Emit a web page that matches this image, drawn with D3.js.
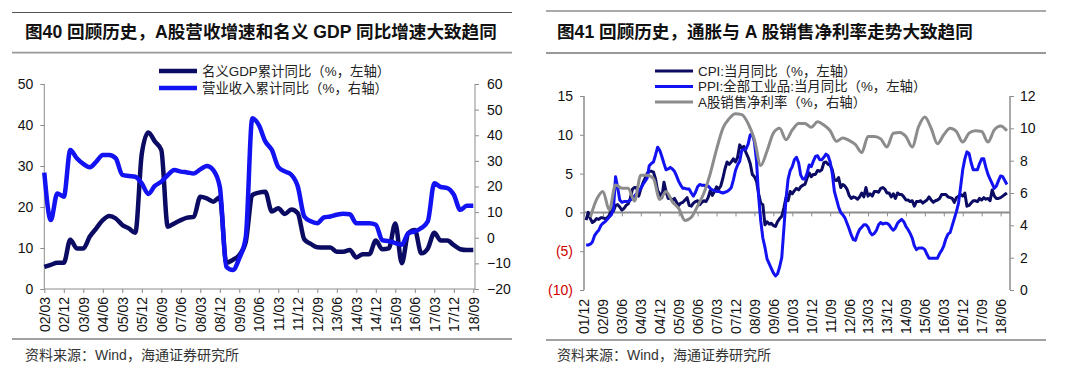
<!DOCTYPE html>
<meta charset="utf-8">
<style>
body { margin: 0; background: #fff; }
svg { display: block; background: #fff; }
text { font-family: "Liberation Sans", Arial, "Noto Sans CJK SC", sans-serif; }
.title { font-size: 17.6px; font-weight: bold; fill: #111; }
.axis text { font-size: 14px; fill: #111; }
.axis .domain { display: none; }
.axis line { stroke: #8c8c8c; }
.legend text { font-size: 13.4px; fill: #222; }
.src { font-size: 14px; fill: #333; }
</style>
<svg width="1080" height="376"></svg>
<script src="https://d3js.org/d3.v7.min.js"></script>
<script>
// ---- 图40: quarterly, from 02/03 ----
var gdpTicks = ["02/03","02/12","03/09","04/06","05/03","05/12","06/09","07/06","08/03","08/12","09/09","10/06",
  "11/03","11/12","12/09","13/06","14/03","14/12","15/09","16/06","17/03","17/12","18/09"];
var gdpStart = "02/03";
var gdpYoy = [5.4,5.9,6.4,6.4,12.0,9.9,9.9,12.8,14.8,16.8,17.8,17.2,15.6,14.8,13.7,33.0,38.2,36.0,33.9,15.2,
  16.0,16.8,17.4,17.6,22.5,22.1,21.3,22.4,6.4,7.1,8.3,11.5,22.9,23.5,23.7,18.9,19.7,18.3,19.4,18.5,
  12.1,11.0,10.2,10.1,10.1,9.1,9.1,9.5,7.7,8.5,8.5,11.8,9.7,9.9,16.0,6.3,13.6,14.4,8.7,9.9,
  13.7,11.8,11.8,10.7,9.7,9.5,9.5];
var revenueYoy = [25.4,6.9,17.3,16.0,34.2,31.0,28.8,27.5,29.7,32.3,32.3,31.0,24.5,24.1,23.8,21.2,17.1,20.2,21.9,24.5,
  26.4,25.8,25.5,25.1,26.7,28.0,26.4,19.9,-11.3,-12.6,-8.0,0.4,46.6,44.0,37.6,34.3,27.6,25.9,24.6,20.0,
  8.3,6.4,5.7,7.9,8.3,9.0,9.4,9.2,5.7,5.7,5.7,5.1,-1.0,-1.3,-2.1,-2.7,1.8,2.5,3.8,6.4,
  21.3,19.8,19.4,16.8,10.9,12.5,12.5];

// ---- 图41: monthly CPI / PPI from 02/01, quarterly margin from 02/03 ----
var cpiTicks = ["01/12","02/09","03/06","04/03","04/12","05/09","06/06","07/03","07/12","08/09","09/06","10/03",
  "10/12","11/09","12/06","13/03","13/12","14/09","15/06","16/03","16/12","17/09","18/06"];
var monthlyStart = "02/01";
var cpiYoy = [
  -1.0,0.0,-0.8,-1.3,-1.1,-0.8,-0.9,-0.7,-0.7,-0.8,-0.7,-0.4,
  0.4,0.2,0.9,1.0,0.7,0.3,0.5,0.9,1.1,1.8,3.0,3.2,
  3.2,2.1,3.0,3.8,4.4,5.0,5.3,5.3,5.2,4.3,2.8,2.4,
  1.9,3.9,2.7,1.8,1.8,1.6,1.8,1.3,0.9,1.2,1.3,1.6,
  1.9,0.9,0.8,1.2,1.4,1.5,1.0,1.3,1.5,1.4,1.9,2.8,
  2.2,2.7,3.3,3.0,3.4,4.4,5.6,6.5,6.2,6.5,6.9,6.5,
  7.1,8.7,8.3,8.5,7.7,7.1,6.3,4.9,4.6,4.0,2.4,1.2,
  1.0,-1.6,-1.2,-1.5,-1.4,-1.7,-1.8,-1.2,-0.8,-0.5,0.6,1.9,
  1.5,2.7,2.4,2.8,3.1,2.9,3.3,3.5,3.6,4.4,5.1,4.6,
  4.9,4.9,5.4,5.3,5.5,6.4,6.5,6.2,6.1,5.5,4.2,4.1,
  4.5,3.2,3.6,3.4,3.0,2.2,1.8,2.0,1.9,1.7,2.0,2.5,
  2.0,3.2,2.1,2.4,2.1,2.7,2.7,2.6,3.1,3.2,3.0,2.5,
  2.5,2.0,2.4,1.8,2.5,2.3,2.3,2.0,1.6,1.6,1.4,1.5,
  0.8,1.4,1.4,1.5,1.2,1.4,1.6,2.0,1.6,1.3,1.5,1.6,
  1.8,2.3,2.3,2.3,2.0,1.9,1.8,1.3,1.9,2.1,2.3,2.1,
  2.5,0.8,0.9,1.2,1.5,1.5,1.4,1.8,1.6,1.9,1.7,1.8,
  1.5,2.9,2.1,1.8,1.8,1.9,2.1,2.3,2.5];
var ppiYoy = [
  -4.2,-4.2,-4.1,-3.8,-3.0,-2.6,-2.3,-1.7,-1.4,-1.2,-0.9,-0.6,
  -0.3,0.4,4.6,3.2,1.6,1.3,1.4,1.4,1.4,1.6,1.8,2.1,
  2.4,2.8,3.1,3.6,4.0,4.4,6.0,6.3,6.5,7.4,8.4,8.0,
  7.2,6.3,5.5,5.6,5.8,5.6,5.3,4.7,4.0,3.5,3.1,3.1,
  3.0,3.0,2.5,2.1,2.6,3.3,3.6,3.5,3.5,3.4,3.4,3.1,
  2.9,2.8,2.7,2.7,2.6,2.5,2.6,2.7,2.9,3.2,4.2,5.4,
  6.1,6.6,8.0,8.1,8.2,8.8,10.0,10.1,9.1,6.6,2.0,-1.1,
  -3.3,-4.5,-6.0,-6.6,-7.2,-7.8,-8.2,-7.9,-7.0,-5.8,-2.1,1.7,
  4.3,5.4,5.9,6.8,7.1,6.4,4.8,4.3,4.3,5.0,6.1,5.9,
  6.6,7.2,7.3,6.8,6.8,7.1,7.5,7.3,6.5,5.0,2.7,1.7,
  0.7,0.0,-0.3,-0.7,-1.4,-2.1,-2.9,-3.5,-3.6,-2.8,-2.2,-1.9,
  -1.6,-1.6,-1.9,-2.6,-2.9,-2.7,-2.3,-1.6,-1.3,-1.5,-1.4,-1.4,
  -1.6,-2.0,-2.3,-2.0,-1.4,-1.1,-0.9,-1.2,-1.8,-2.2,-2.7,-3.3,
  -4.3,-4.8,-4.6,-4.6,-4.6,-4.8,-5.4,-5.9,-5.9,-5.9,-5.9,-5.9,
  -5.3,-4.9,-4.3,-3.4,-2.8,-2.6,-1.7,-0.8,0.1,1.2,3.3,5.5,
  6.9,7.8,7.6,6.4,5.5,5.5,5.5,6.3,6.9,6.9,5.8,4.9,
  4.3,3.7,3.1,3.4,4.1,4.7,4.6,4.1,3.6];
var marginStart = "02/03";
var netMargin = [4.5,5.6,6.1,4.95, 6.5,6.3,6.3,5.5, 7.1,7.1,6.9,5.6, 6.1,5.45,5.05,4.3,
  4.5,5.2,6.0,7.2, 8.7,10.0,10.6,10.9, 10.85,10.3,9.3,7.7, 8.6,9.7,10.0,9.3,
  9.9,10.3,10.3,10.06, 10.4,10.2,9.85,9.2, 9.4,9.25,9.0,8.5, 9.5,9.5,9.35,8.85,
  9.7,9.75,9.5,8.85, 10.1,10.7,10.0,9.05, 9.6,10.0,9.8,9.15, 9.7,9.85,9.8,9.15,
  9.9,10.15,9.85];

var navy = "#0b0b64", blue = "#1212f2", grey = "#8c8c8c", axisGrey = "#8c8c8c";

function monthIndex(s) { var p = s.split("/"); return (+p[0]) * 12 + (+p[1]) - 1; }
function series(start, step, values) {
  var m0 = monthIndex(start);
  return values.map(function(v, i) { return {m: m0 + i * step, v: v}; });
}

var svg = d3.select("svg");

// frame: rules, titles, sources
function frame(x0, x1, topY, subY, footY, tx, title) {
  svg.append("line").attr("x1", x0).attr("x2", x1).attr("y1", topY).attr("y2", topY)
    .attr("stroke", "#555").attr("stroke-width", 1.2);
  svg.append("line").attr("x1", x0).attr("x2", x1).attr("y1", subY).attr("y2", subY)
    .attr("stroke", "#999").attr("stroke-width", 1.8);
  svg.append("line").attr("x1", x0).attr("x2", x1).attr("y1", footY).attr("y2", footY)
    .attr("stroke", "#444").attr("stroke-width", 1.2);
  svg.append("text").attr("class", "title").attr("x", tx).attr("y", 38).text(title);
  svg.append("text").attr("class", "src").attr("x", tx).attr("y", 360).text("资料来源：Wind，海通证券研究所");
}
frame(12, 512, 12.5, 52.7, 339, 25, "图40 回顾历史，A股营收增速和名义 GDP 同比增速大致趋同");
frame(546, 1046, 11, 53, 340, 557, "图41 回顾历史，通胀与 A 股销售净利率走势大致趋同");

function legend(x, y, items) {
  var g = svg.append("g").attr("class", "legend");
  items.forEach(function(d, i) {
    var yy = y + i * d.gap;
    g.append("line").attr("x1", x).attr("x2", x + 38).attr("y1", yy).attr("y2", yy)
      .attr("stroke", d.color).attr("stroke-width", d.w);
    g.append("text").attr("x", x + 43).attr("y", yy).attr("dy", "0.36em").text(d.label);
  });
}

// ================= 图40 =================
(function() {
  var x = d3.scaleLinear().domain([monthIndex("02/03"), monthIndex("18/09")]).range([44.3, 473.3]);
  var yL = d3.scaleLinear().domain([0, 50]).range([289, 84]);
  var yR = d3.scaleLinear().domain([-20, 60]).range([289, 84]);

  svg.append("g").attr("class", "axis").attr("transform", "translate(44.3,0)")
    .call(d3.axisLeft(yL).tickValues(d3.range(0, 51, 10)).tickSize(4).tickSizeOuter(0).tickPadding(7));
  svg.append("g").attr("class", "axis").attr("transform", "translate(475,0)")
    .call(d3.axisRight(yR).tickValues(d3.range(-20, 61, 10)).tickSize(4).tickSizeOuter(0).tickPadding(8));
  var xa = svg.append("g").attr("class", "axis").attr("transform", "translate(0,289)")
    .call(d3.axisBottom(x).tickValues(gdpTicks.map(monthIndex))
      .tickFormat(function(d, i) { return gdpTicks[i]; }).tickSize(4).tickSizeOuter(0));
  xa.selectAll("text").attr("transform", "rotate(-90)").attr("x", -8).attr("y", 0)
    .attr("dy", "0.35em").style("text-anchor", "end");

  svg.append("line").attr("x1", 44.3).attr("x2", 44.3).attr("y1", 84).attr("y2", 289).attr("stroke", axisGrey);
  svg.append("line").attr("x1", 475).attr("x2", 475).attr("y1", 84).attr("y2", 289).attr("stroke", axisGrey);
  svg.append("line").attr("x1", 44.3).attr("x2", 475).attr("y1", 289).attr("y2", 289).attr("stroke", axisGrey);

  var lineL = d3.line().x(function(d) { return x(d.m); }).y(function(d) { return yL(d.v); }).curve(d3.curveMonotoneX);
  var lineR = d3.line().x(function(d) { return x(d.m); }).y(function(d) { return yR(d.v); }).curve(d3.curveMonotoneX);

  svg.append("path").datum(series(gdpStart, 3, gdpYoy)).attr("d", lineL)
    .attr("fill", "none").attr("stroke", navy).attr("stroke-width", 4.5).attr("stroke-linejoin", "round");
  svg.append("path").datum(series(gdpStart, 3, revenueYoy)).attr("d", lineR)
    .attr("fill", "none").attr("stroke", blue).attr("stroke-width", 4.5).attr("stroke-linejoin", "round");

  legend(159, 71, [
    {label: "名义GDP累计同比（%，左轴）", color: navy, w: 4.5, gap: 17},
    {label: "营业收入累计同比（%，右轴）", color: blue, w: 4.5, gap: 17}
  ]);
})();

// ================= 图41 =================
(function() {
  var x = d3.scaleLinear().domain([monthIndex("01/12"), monthIndex("18/06")]).range([584, 1000.6]);
  var yL = d3.scaleLinear().domain([-10, 15]).range([290, 96]);
  var yR = d3.scaleLinear().domain([0, 12]).range([290, 96]);

  var la = svg.append("g").attr("class", "axis").attr("transform", "translate(584,0)")
    .call(d3.axisLeft(yL).tickValues(d3.range(-10, 16, 5)).tickSize(4).tickSizeOuter(0).tickPadding(7)
      .tickFormat(function(d) { return d < 0 ? "(" + (-d) + ")" : d; }));
  la.selectAll("text").style("fill", function(d) { return d < 0 ? "#d00000" : "#111"; });
  svg.append("g").attr("class", "axis").attr("transform", "translate(1010,0)")
    .call(d3.axisRight(yR).tickValues(d3.range(0, 13, 2)).tickSize(4).tickSizeOuter(0).tickPadding(6));

  // zero line with ticks, labels placed low
  svg.append("g").attr("class", "axis").attr("transform", "translate(0," + yL(0) + ")")
    .call(d3.axisBottom(x).tickValues(cpiTicks.map(monthIndex)).tickFormat("").tickSize(4).tickSizeOuter(0));
  var xa = svg.append("g").attr("class", "axis").attr("transform", "translate(0,290)")
    .call(d3.axisBottom(x).tickValues(cpiTicks.map(monthIndex))
      .tickFormat(function(d, i) { return cpiTicks[i]; }).tickSize(0));
  xa.selectAll("text").attr("transform", "rotate(-90)").attr("x", -9).attr("y", 0)
    .attr("dy", "0.35em").style("text-anchor", "end");

  svg.append("line").attr("x1", 584).attr("x2", 584).attr("y1", 96).attr("y2", 290).attr("stroke", axisGrey).attr("stroke-width", 1.5);
  svg.append("line").attr("x1", 1010).attr("x2", 1010).attr("y1", 96).attr("y2", 290).attr("stroke", axisGrey).attr("stroke-width", 1.5);
  svg.append("line").attr("x1", 584).attr("x2", 1010).attr("y1", yL(0)).attr("y2", yL(0)).attr("stroke", axisGrey).attr("stroke-width", 2);

  var lineL = d3.line().x(function(d) { return x(d.m); }).y(function(d) { return yL(d.v); });
  var lineR = d3.line().x(function(d) { return x(d.m); }).y(function(d) { return yR(d.v); }).curve(d3.curveMonotoneX);

  svg.append("path").datum(series(monthlyStart, 1, cpiYoy)).attr("d", lineL)
    .attr("fill", "none").attr("stroke", navy).attr("stroke-width", 3).attr("stroke-linejoin", "round");
  svg.append("path").datum(series(monthlyStart, 1, ppiYoy)).attr("d", lineL)
    .attr("fill", "none").attr("stroke", blue).attr("stroke-width", 3).attr("stroke-linejoin", "round");
  svg.append("path").datum(series(marginStart, 3, netMargin)).attr("d", lineR)
    .attr("fill", "none").attr("stroke", grey).attr("stroke-width", 3).attr("stroke-linejoin", "round");

  legend(655, 71, [
    {label: "CPI:当月同比（%，左轴）", color: navy, w: 3, gap: 15.5},
    {label: "PPI:全部工业品:当月同比（%，左轴）", color: blue, w: 3, gap: 15.5},
    {label: "A股销售净利率（%，右轴）", color: grey, w: 3, gap: 15.5}
  ]);
})();
</script>
